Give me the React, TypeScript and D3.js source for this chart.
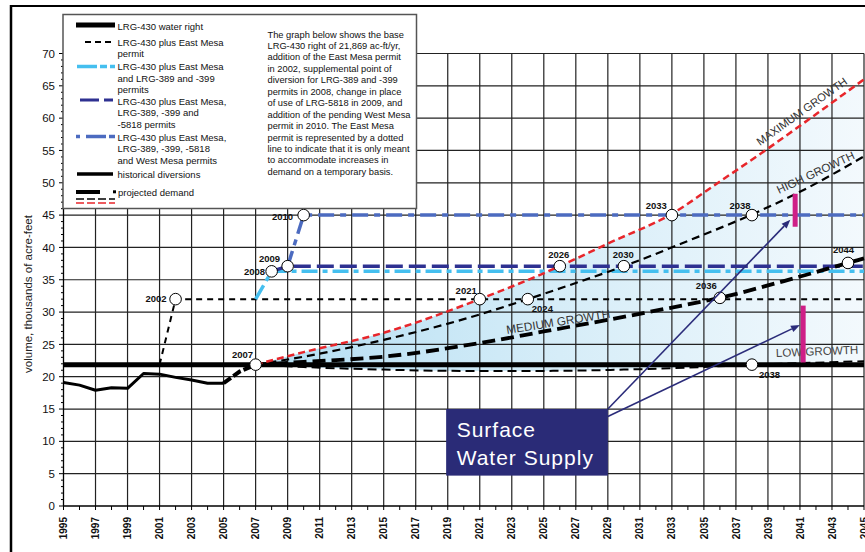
import React from 'react';
import * as d3 from 'd3';

const W = 865;
const H = 552;
const FONT = "'Liberation Sans', Arial, Helvetica, sans-serif";

// ---- axes ----
const xDomain = [1995, 2045];
const yDomain = [0, 70];
const xLabelYears = d3.range(1995, 2046, 2);
const xTickYears = d3.range(1995, 2046, 1);
const yMajorTicks = d3.range(0, 71, 5);
const yMinorTicks = d3.range(0, 71, 1);

// ---- supply ----
const waterRight = 21.869;
const histYears = [1995, 1996, 1997, 1998, 1999, 2000, 2001, 2002, 2003, 2004, 2005];
const histValues = [19.1, 18.7, 17.9, 18.3, 18.2, 20.5, 20.4, 19.9, 19.5, 19.0, 19.0];
const transYears = [2005, 2006, 2007];
const transValues = [19.0, 20.8, 21.869];

const eastMesaYears = [2001, 2002, 2045];
const eastMesaValues = [21.869, 32, 32];
const lrg389Years = [2007, 2008, 2045];
const lrg389Values = [32, 36.3, 36.3];
const lrg5818Years = [2008, 2009, 2045];
const lrg5818Values = [36.3, 37.1, 37.1];
const westMesaYears = [2009, 2010, 2045];
const westMesaValues = [37.1, 45, 45];

// ---- projected demand ----
const maxYears = [2007, 2010, 2015, 2021, 2026, 2029, 2033, 2036, 2039, 2042, 2045];
const maxValues = [21.869, 23.8, 26.8, 32.0, 37.1, 40.6, 45.2, 50.2, 55.3, 60.6, 66.0];
const highYears = [2007, 2010, 2015, 2020, 2024, 2027, 2030, 2034, 2038, 2041, 2045];
const highValues = [21.869, 23.1, 25.7, 28.9, 32.0, 34.5, 37.1, 41.0, 45.1, 48.6, 54.1];
const medYears = [2007, 2010, 2015, 2021, 2025, 2029, 2033, 2036, 2040, 2044, 2045];
const medValues = [21.869, 22.3, 23.1, 25.2, 27.0, 28.8, 30.7, 32.2, 34.8, 37.6, 38.3];
const lowYears = [2007, 2010, 2015, 2020, 2025, 2030, 2035, 2038, 2041, 2045];
const lowValues = [21.869, 21.5, 21.1, 20.9, 20.9, 21.1, 21.5, 21.869, 22.1, 22.4];

// ---- milestones ----
const milestoneYears = [2002, 2007, 2008, 2009, 2010, 2021, 2024, 2026, 2030, 2033, 2038, 2036, 2044, 2038];
const milestoneValues = [32, 21.869, 36.3, 37.1, 45, 32, 32, 37.1, 37.1, 45, 45, 32.2, 37.6, 21.869];
const milestoneLabels = ['2002', '2007', '2008', '2009', '2010', '2021', '2024', '2026', '2030', '2033', '2038', '2036', '2044', '2038'];
// label placement [dx, dy, anchor]
const milestoneLabelPlacement: [number, number, string][] = [
  [-9, 3.2, 'end'], [-2.5, -7, 'end'], [-6.5, 3.9, 'end'], [-7.5, -3.7, 'end'], [-10.5, 5, 'end'],
  [-3, -5.2, 'end'], [4, 12.4, 'start'], [-1, -7.7, 'middle'], [-0.5, -7.7, 'middle'],
  [-5, -6, 'end'], [-1.3, -6, 'end'], [-3, -8.6, 'end'], [-4.5, -9.6, 'middle'], [7, 13.7, 'start'],
];

// ---- annotation ----
const barYears = [2040.7, 2041.2];
const barLow = [43.2, 22.2];
const barHigh = [48.3, 31.0];
const arrowTipYears = [2040.4, 2041.0];
const arrowTipValues = [44.3, 28.0];
const boxYears = [2018.9, 2029.0];
const boxValues = [4.7, 15.0];

const legendText = [
  'The graph below shows the base',
  'LRG-430 right of 21,869 ac-ft/yr,',
  'addition of the East Mesa permit',
  'in 2002, supplemental point of',
  'diversion for LRG-389 and -399',
  'permits in 2008, change in place',
  'of use of LRG-5818 in 2009, and',
  'addition of the pending West Mesa',
  'permit in 2010.  The East Mesa',
  'permit is represented by a dotted',
  'line to indicate that it is only meant',
  'to accommodate increases in',
  'demand on a temporary basis.',
];

const legendRows = [
  { x1: 76, x2: 115, y: 25, stroke: '#000', w: 5, dash: undefined, lines: ['LRG-430 water right'], ty: 30 },
  { x1: 85, x2: 115, y: 42, stroke: '#000', w: 2, dash: '6,4', lines: ['LRG-430 plus East Mesa', 'permit'], ty: 45.5 },
  { x1: 77, x2: 115, y: 66.5, stroke: '#45BFEF', w: 3.5, dash: '20,3,7,3,5', lines: ['LRG-430 plus East Mesa', 'and LRG-389 and -399', 'permits'], ty: 70 },
  { x1: 80, x2: 113, y: 100, stroke: '#2E3191', w: 3, dash: '19,5', lines: ['LRG-430 plus East Mesa,', 'LRG-389, -399 and', '-5818 permits'], ty: 104.5 },
  { x1: 76, x2: 115, y: 136.5, stroke: '#4C6BC0', w: 3.5, dash: '4,6,20,3,6', lines: ['LRG-430 plus East Mesa,', 'LRG-389, -399, -5818', 'and West Mesa permits'], ty: 140.5 },
  { x1: 77, x2: 113, y: 174, stroke: '#000', w: 3.5, dash: undefined, lines: ['historical diversions'], ty: 178 },
];

type P = [number, number];
const zip = (a: number[], b: number[]): P[] => a.map((v, i) => [v, b[i]] as P);

function arrow(x0: number, y0: number, x1: number, y1: number) {
  const a = Math.atan2(y1 - y0, x1 - x0);
  const L = 9, hw = 3.5;
  const bx = x1 - L * Math.cos(a), by = y1 - L * Math.sin(a);
  const px = -Math.sin(a) * hw, py = Math.cos(a) * hw;
  return { line: [x0, y0, bx, by], head: `${x1},${y1} ${bx + px},${by + py} ${bx - px},${by - py}` };
}

export default function App() {
  const x = d3.scaleLinear().domain(xDomain).range([63.5, 864]);
  const y = d3.scaleLinear().domain(yDomain).range([506, 53.5]);
  const line = d3.line<P>().x(d => x(d[0])).y(d => y(d[1]));
  const curve = d3.line<P>().x(d => x(d[0])).y(d => y(d[1])).curve(d3.curveMonotoneX);

  const maxPts = zip(maxYears, maxValues);
  const lowPts = zip(lowYears, lowValues);
  const areaD = (curve(maxPts) || '') + (curve([...lowPts].reverse()) || '').replace(/^M/, 'L') + 'Z';

  const boxX0 = x(boxYears[0]), boxX1 = x(boxYears[1]);
  const boxY0 = y(boxValues[1]), boxY1 = y(boxValues[0]);
  const arrows = arrowTipYears.map((yr, i) =>
    arrow(boxX1, boxY0 + (i === 0 ? 0 : 7.5), x(yr), y(arrowTipValues[i])));

  return (
    <svg width={W} height={H} style={{ position: 'absolute', left: 0, top: 0, background: '#fff' }} fontFamily={FONT}>
      <defs>
        <linearGradient id="fillGrad" gradientUnits="userSpaceOnUse" x1={x(2007)} x2={x(2045)} y1={0} y2={0}>
          <stop offset="0" stopColor="#b3def3" />
          <stop offset="0.5" stopColor="#d6edf8" />
          <stop offset="1" stopColor="#f3f9fd" />
        </linearGradient>
      </defs>
      <rect width={W} height={H} fill="#fff" />

      {/* shaded projection area */}
      <path d={areaD} fill="url(#fillGrad)" />

      {/* grid */}
      {yMajorTicks.filter(v => v > 0).map(v => (
        <line key={'gy' + v} x1={x(1995)} x2={x(2045)} y1={y(v)} y2={y(v)} stroke="#222" strokeWidth={1.2} />
      ))}
      {xLabelYears.filter(v => v > 1995).map(v => (
        <line key={'gx' + v} x1={x(v)} x2={x(v)} y1={y(0)} y2={y(70)} stroke="#222" strokeWidth={1.2} />
      ))}

      {/* axes */}
      <line x1={x(1995)} x2={x(1995)} y1={y(0)} y2={y(70)} stroke="#000" strokeWidth={1.3} />
      <line x1={x(1995)} x2={x(2045)} y1={y(0)} y2={y(0)} stroke="#000" strokeWidth={1.3} />
      {yMinorTicks.map(v => (
        <line key={'ym' + v} x1={x(1995) - (v % 5 === 0 ? 4.5 : 2.5)} x2={x(1995)} y1={y(v)} y2={y(v)} stroke="#000" strokeWidth={1} />
      ))}
      {xTickYears.map(v => (
        <line key={'xt' + v} x1={x(v)} x2={x(v)} y1={y(0)} y2={y(0) + 4} stroke="#000" strokeWidth={1} />
      ))}
      {yMajorTicks.map(v => (
        <text key={'yl' + v} x={55} y={y(v)} dy="0.36em" textAnchor="end" fontSize={11.5} fill="#111">{v}</text>
      ))}
      {xLabelYears.map(v => (
        <text key={'xl' + v} transform={`translate(${x(v)},${517}) rotate(-90)`} dy="0.36em" textAnchor="end"
          fontSize={10} fontWeight="bold" fill="#111">{v}</text>
      ))}
      <text transform={`translate(31.5,294) rotate(-90)`} textAnchor="middle" fontSize={11.5} fill="#222">
        volume, thousands of acre-feet
      </text>

      {/* LRG-430 water right */}
      <line x1={x(1995)} x2={x(2045)} y1={y(waterRight)} y2={y(waterRight)} stroke="#000" strokeWidth={5} />

      {/* historical diversions */}
      <path d={line(zip(histYears, histValues)) || ''} fill="none" stroke="#000" strokeWidth={3} strokeLinejoin="round" />
      <path d={line(zip(transYears, transValues)) || ''} fill="none" stroke="#000" strokeWidth={4} strokeDasharray="9,3" />

      {/* permits */}
      <path d={line(zip(eastMesaYears, eastMesaValues)) || ''} fill="none" stroke="#000" strokeWidth={2} strokeDasharray="6,5" />
      <path d={line(zip(lrg389Years, lrg389Values)) || ''} fill="none" stroke="#45BFEF" strokeWidth={3.5} strokeDasharray="16,5,5,5" />
      <path d={line(zip(lrg5818Years, lrg5818Values)) || ''} fill="none" stroke="#2E3191" strokeWidth={3.5} strokeDasharray="17,6" />
      <path d={line(zip(westMesaYears, westMesaValues)) || ''} fill="none" stroke="#4C6BC0" strokeWidth={3.5} strokeDasharray="16,6,6,6" />

      {/* projected demand */}
      <path d={curve(lowPts) || ''} fill="none" stroke="#000" strokeWidth={2} strokeDasharray="9,5" />
      <path d={curve(zip(medYears, medValues)) || ''} fill="none" stroke="#000" strokeWidth={3.8} strokeDasharray="13,6" />
      <path d={curve(zip(highYears, highValues)) || ''} fill="none" stroke="#000" strokeWidth={2.2} strokeDasharray="8,5" />
      <path d={curve(maxPts) || ''} fill="none" stroke="#E8262B" strokeWidth={2.5} strokeDasharray="7,4" />

      {/* growth labels */}
      <text transform={`translate(760,146) rotate(-35.5)`} fontSize={11.2} fill="#333">MAXIMUM GROWTH</text>
      <text transform={`translate(779,194) rotate(-25)`} fontSize={11.5} fill="#333">HIGH GROWTH</text>
      <text transform={`translate(507,334) rotate(-9)`} fontSize={11.8} fill="#333">MEDIUM GROWTH</text>
      <text transform={`translate(776,357) rotate(-2.3)`} fontSize={11.6} fill="#444">LOW GROWTH</text>

      {/* pink bars */}
      {barYears.map((yr, i) => (
        <line key={'bar' + i} x1={x(yr)} x2={x(yr)} y1={y(barLow[i])} y2={y(barHigh[i])} stroke="#CF1F87" strokeWidth={5} />
      ))}

      {/* milestones */}
      {milestoneYears.map((yr, i) => (
        <g key={'ms' + i}>
          <circle cx={x(yr)} cy={y(milestoneValues[i])} r={5.8} fill="#fff" stroke="#000" strokeWidth={1} />
          <text x={x(yr) + milestoneLabelPlacement[i][0]} y={y(milestoneValues[i]) + milestoneLabelPlacement[i][1]}
            textAnchor={milestoneLabelPlacement[i][2] as any} fontSize={9.5} fontWeight="bold" fill="#111">
            {milestoneLabels[i]}
          </text>
        </g>
      ))}

      {/* Surface Water Supply box + arrows */}
      <rect x={boxX0} y={boxY0} width={boxX1 - boxX0} height={boxY1 - boxY0} fill="#2A2B77" />
      <text x={boxX0 + 10.5} y={boxY0 + 28} fontSize={21} fill="#fff" letterSpacing={1}>Surface</text>
      <text x={boxX0 + 10.5} y={boxY0 + 55.7} fontSize={21} fill="#fff" letterSpacing={1}>Water Supply</text>
      {arrows.map((a, i) => (
        <g key={'ar' + i}>
          <line x1={a.line[0]} y1={a.line[1]} x2={a.line[2]} y2={a.line[3]} stroke="#2B2C7A" strokeWidth={1.6} />
          <polygon points={a.head} fill="#2B2C7A" />
        </g>
      ))}

      {/* legend */}
      <rect x={63} y={14.5} width={353.5} height={194} fill="#fff" stroke="#555" strokeWidth={1.5} />
      {legendRows.map((r, i) => (
        <g key={'lg' + i}>
          <line x1={r.x1} x2={r.x2} y1={r.y} y2={r.y} stroke={r.stroke} strokeWidth={r.w} strokeDasharray={r.dash} />
          {r.lines.map((t, j) => (
            <text key={j} x={117.5} y={r.ty + j * 11.5} fontSize={9.5} fill="#111">{t}</text>
          ))}
        </g>
      ))}
      <line x1={76} x2={100} y1={192} y2={192} stroke="#000" strokeWidth={4} />
      <rect x={113} y={190.3} width={3} height={3} fill="#000" />
      <text x={118} y={195.5} fontSize={9.5} fill="#111">projected demand</text>
      <line x1={76} x2={115} y1={199} y2={199} stroke="#000" strokeWidth={1.5} strokeDasharray="8,3" />
      <line x1={76} x2={115} y1={203} y2={203} stroke="#E8262B" strokeWidth={1.5} strokeDasharray="8,3" />
      {legendText.map((t, i) => (
        <text key={'lt' + i} x={267.5} y={37.5 + i * 11.45} fontSize={9.3} fill="#111">{t}</text>
      ))}

      {/* outer frame */}
      <line x1={10} x2={W} y1={6} y2={6} stroke="#000" strokeWidth={2.2} />
      <line x1={11} x2={11} y1={5} y2={H} stroke="#000" strokeWidth={2.5} />
    </svg>
  );
}
